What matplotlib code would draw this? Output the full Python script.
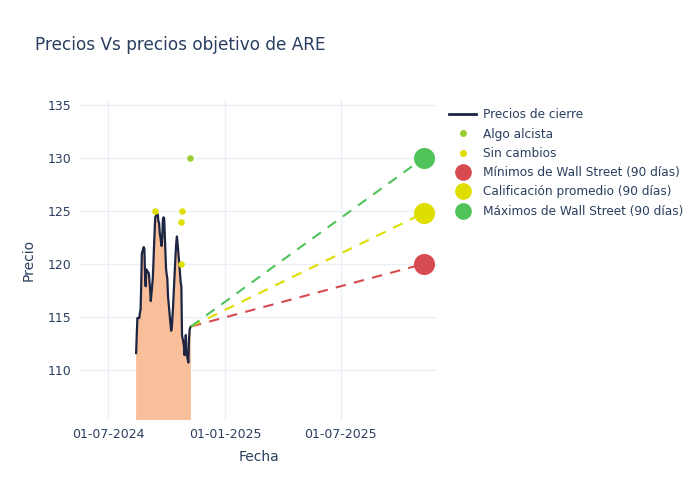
import numpy as np
import pandas as pd
import matplotlib
matplotlib.use("Agg")
import matplotlib.pyplot as plt
import matplotlib.dates as mdates
from matplotlib.lines import Line2D

# closing prices (trading days)
dates = pd.bdate_range("2024-08-14", "2024-11-08", freq="C", holidays=["2024-09-02"])
close = [111.6, 113.3, 114.9, 114.9, 115.4, 115.7, 118.0, 121.0, 121.6, 121.4, 119.0, 117.9, 119.5,
         119.1, 118.3, 117.6, 116.5, 118.5, 119.8, 121.5, 123.0, 124.4, 124.8, 124.6, 124.0, 123.9,
         123.0, 121.7, 122.5, 124.2, 124.4, 124.3, 119.5,
         119.0, 118.6, 117.0, 116.3, 114.3, 113.7, 114.0, 115.0, 116.0, 119.8, 121.0, 122.0, 122.6,
         122.0, 119.8, 119.0, 118.2, 117.9, 113.3, 112.3, 111.4, 112.5, 113.3,
         111.6, 110.7, 113.0, 113.8, 114.0, 114.1]

# analyst ratings
alcista_dates = pd.to_datetime(["2024-11-07"])
alcista_vals = [130]
sin_cambios_dates = pd.to_datetime(["2024-09-13", "2024-10-25", "2024-10-23", "2024-10-23"])
sin_cambios_vals = [125, 125, 124, 120]

# targets (90 days)
target_date = pd.Timestamp("2025-11-08")
target_low = 120.0
target_avg = 124.8
target_high = 130.0

text_col = "#2a3f5f"
grid_col = "#ebf0f8"
red = "#d64b50"
yellow = "#dede00"
green = "#50c35a"
alc_col = "#9acd32"

fig = plt.figure(figsize=(7, 5), dpi=100)
ax = fig.add_axes([0.1143, 0.16, 0.51, 0.64])

ax.fill_between(dates, close, 0, color="#f9be9a", lw=0)
ax.plot(dates, close, color="#1c2541", lw=1.6)

last_date, last_val = dates[-1], close[-1]
for val, col in [(target_low, red), (target_avg, yellow), (target_high, green)]:
    ax.plot([last_date, target_date], [last_val, val], color=col, lw=1.5, ls=(0, (5, 4)))

ax.scatter(alcista_dates, alcista_vals, s=22, color=alc_col, zorder=5, lw=0)
ax.scatter(sin_cambios_dates, sin_cambios_vals, s=22, color=yellow, zorder=5, lw=0)
ax.scatter([target_date], [target_low], s=230, color=red, zorder=6, lw=0)
ax.scatter([target_date], [target_avg], s=230, color=yellow, zorder=6, lw=0)
ax.scatter([target_date], [target_high], s=230, color=green, zorder=6, lw=0)

ax.set_xlim(pd.Timestamp("2024-05-18"), pd.Timestamp("2025-11-29"))
ax.set_ylim(105.28, 135.47)
ax.set_xticks(pd.to_datetime(["2024-07-01", "2025-01-01", "2025-07-01"]))
ax.xaxis.set_major_formatter(mdates.DateFormatter("%d-%m-%Y"))
ax.set_yticks([110, 115, 120, 125, 130, 135])
ax.grid(True, color=grid_col, lw=1)
ax.set_axisbelow(True)
for s in ax.spines.values():
    s.set_visible(False)
ax.tick_params(length=0, labelsize=9, labelcolor=text_col, pad=6)
ax.set_xlabel("Fecha", fontsize=10, color=text_col, labelpad=6)
ax.set_ylabel("Precio", fontsize=10, color=text_col, labelpad=9)

fig.text(0.05, 0.91, "Precios Vs precios objetivo de ARE", fontsize=12.2, color=text_col, va="center")

handles = [
    Line2D([], [], color="#1c2541", lw=2),
    Line2D([], [], ls="none", marker="o", ms=4, color=alc_col),
    Line2D([], [], ls="none", marker="o", ms=4, color=yellow),
    Line2D([], [], ls="none", marker="o", ms=11, color=red),
    Line2D([], [], ls="none", marker="o", ms=11, color=yellow),
    Line2D([], [], ls="none", marker="o", ms=11, color=green),
]
labels = ["Precios de cierre", "Algo alcista", "Sin cambios",
          "Mínimos de Wall Street (90 días)", "Calificación promedio (90 días)",
          "Máximos de Wall Street (90 días)"]
leg = fig.legend(handles, labels, loc="upper left", bbox_to_anchor=(0.635, 0.793),
                 frameon=False, fontsize=8.7, labelspacing=0.52, handlelength=2.2,
                 handletextpad=0.55, borderaxespad=0)
for t in leg.get_texts():
    t.set_color(text_col)

fig.savefig("out.png", dpi=100)
